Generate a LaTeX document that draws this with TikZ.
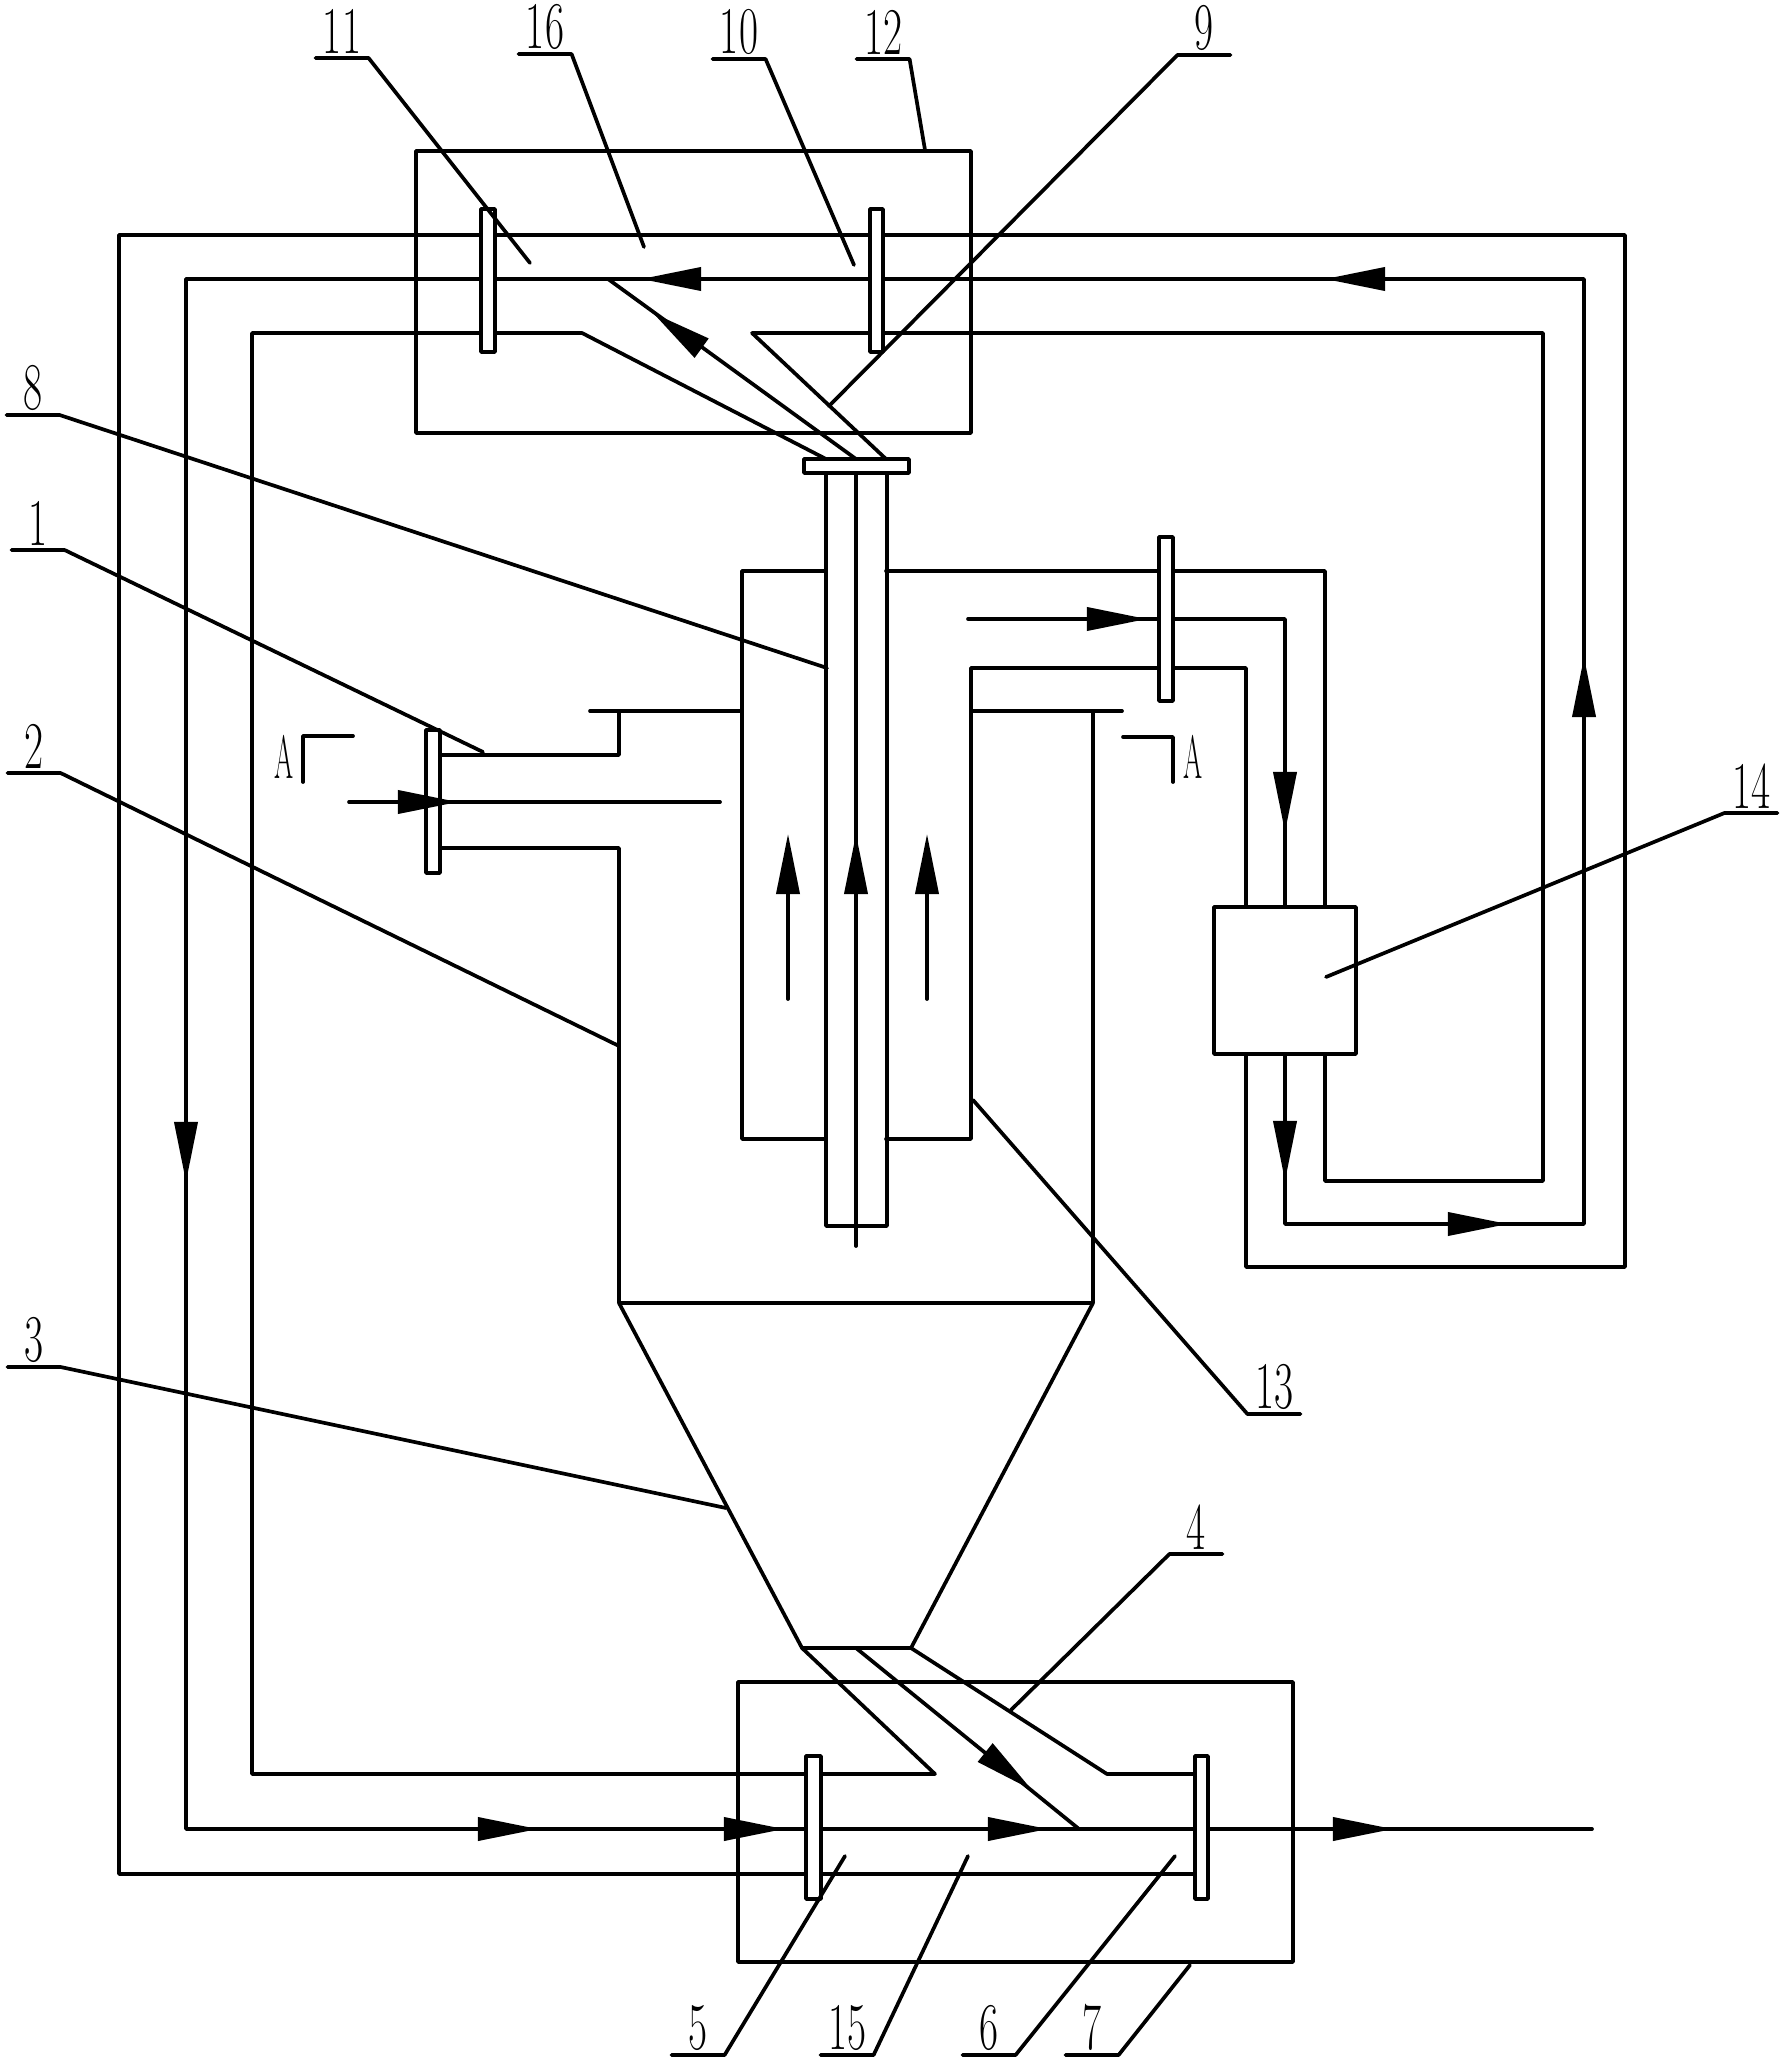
\documentclass[tikz,border=0pt]{standalone}
\usepackage{tikz}
\usetikzlibrary{arrows.meta,positioning,calc}

\tikzset{
  flowtip/.style={-{Triangle[length=.6cm,width=.23cm]}},
  flange/.style={draw,fill=white},
  numlab/.style={anchor=south,inner xsep=0pt,inner ysep=.03cm,minimum width=.82cm,
    font=\fontsize{19}{19}\selectfont,xscale=.62,transform shape},
  seclab/.style={inner sep=0pt,font=\fontsize{17.4}{18}\selectfont,xscale=.45,transform shape}
}

\begin{document}
\begin{tikzpicture}[x=.01cm,y=-.01cm,line width=1.05pt,line cap=round,line join=round]
\useasboundingbox (0,0) rectangle (1783,2064);

% The two chambers at top and bottom, and the box 14
\draw (416,151) rectangle (971,433);
\draw (738,1682) rectangle (1293,1962);
\draw (1214,907) rectangle (1356,1054);

% Outer channel of the loop
\draw (1194,1874) -- (119,1874) -- (119,235) -- (1625,235) -- (1625,1267)
      -- (1246,1267) -- (1246,1054);
\draw (1246,907) -- (1246,668) -- (971,668) -- (971,1139) -- (886,1139);

% Casing 13
\draw (826,1139) -- (742,1139) -- (742,571) -- (826,571);
\draw (886,571) -- (1325,571) -- (1325,907);
\draw (1325,1054) -- (1325,1181) -- (1543,1181) -- (1543,333) -- (752,333) -- (886,459);

% Inner channel, the one that joins the hopper with the flange 9
\draw (911,1648) -- (1107,1774) -- (1194,1774);
\draw (802,1648) -- (935,1774) -- (252,1774) -- (252,333) -- (582,333) -- (826,459);

% Flow lines (the branches meet them at the two ejectors)
\draw (968,619) -- (1285,619) -- (1285,907);
\draw (1285,1054) -- (1285,1224) -- (1584,1224) -- (1584,279) -- (186,279)
      -- (186,1829) -- (1592,1829);
\draw (608,279) -- (856,459);
\draw (856,1648) -- (1079,1829);

% The cyclone with its inlet
\draw (590,711) -- (742,711)
      (971,711) -- (1122,711)
      (619,711) -- (619,755) -- (440,755)
      (440,848) -- (619,848) -- (619,1303) -- (1093,1303) -- (1093,711);
\draw (619,1303) -- (802,1648) -- (911,1648) -- (1093,1303);
\draw (349,802) -- (720,802);

% The pipe through the casing
\draw (826,473) -- (826,1226) -- (887,1226) -- (887,473);
\draw (856,473) -- (856,1246);

% Section marks
\draw (353,736) -- (303,736) -- (303,782);
\draw (1123,737) -- (1173,737) -- (1173,782);
\node[seclab] (secL) at (284,757) {A};
\node[seclab] (secR) at (1193,757) {A};

% Flanges, drawn over the lines
\filldraw[flange] (481,209) rectangle (495,352);
\filldraw[flange] (870,209) rectangle (883,352);
\filldraw[flange] (804,459) rectangle (909,473);
\filldraw[flange] (1159,537) rectangle (1173,701);
\filldraw[flange] (426,730) rectangle (440,873);
\filldraw[flange] (806,1756) rectangle (821,1899);
\filldraw[flange] (1195,1756) rectangle (1208,1899);

% Arrows on the top lines
\draw[flowtip] (1383,279) -- (1325,279);
\draw[flowtip] (699,279) -- (641,279);
\draw[flowtip] (700,347) -- (653,313);
\draw[flowtip] (186,1124) -- (186,1182);

% Arrows on the bottom lines
\draw[flowtip] (477,1829) -- (538,1829);
\draw[flowtip] (726,1829) -- (784,1829);
\draw[flowtip] (991,1829) -- (1048,1829);
\draw[flowtip] (1333,1829) -- (1393,1829);
\draw[flowtip] (987,1754) -- (1032,1790);

% Arrows around the box 14
\draw[flowtip] (1092,619) -- (1147,619);
\draw[flowtip] (1285,777) -- (1285,832);
\draw[flowtip] (1285,1120) -- (1285,1181);
\draw[flowtip] (1447,1224) -- (1508,1224);
\draw[flowtip] (1584,718) -- (1584,657);

% Arrows in the inlet and in the pipe
\draw[flowtip] (402,802) -- (458,802);
\draw[flowtip] (788,999) -- (788,834);
\draw[flowtip] (927,999) -- (927,834);
\draw[flowtip] (856,896) -- (856,834);

% Numbers: the lower edge of each node is the shelf of its leader
\node[numlab] (n11) at (342,58)   {11};
\node[numlab] (n16) at (545,54)   {16};
\node[numlab] (n10) at (739,59)   {10};
\node[numlab] (n12) at (883,59)   {12};
\node[numlab] (n9)  at (1204,55)  {9};
\node[numlab] (n8)  at (33,415)   {8};
\node[numlab] (n1)  at (38,550)   {1};
\node[numlab] (n2)  at (34,773)   {2};
\node[numlab] (n3)  at (34,1367)  {3};
\node[numlab] (n13) at (1274,1414) {13};
\node[numlab] (n14) at (1751,813) {14};
\node[numlab] (n4)  at (1196,1554) {4};
\node[numlab] (n5)  at (698,2055) {5};
\node[numlab] (n15) at (847,2055) {15};
\node[numlab] (n6)  at (989,2055) {6};
\node[numlab] (n7)  at (1092,2055) {7};

% Ends of the leaders
\coordinate (l11) at (530,263);
\coordinate (l16) at (644,247);
\coordinate (l10) at (854,265);
\coordinate (l12) at (925,150);
\coordinate (l9)  at (829,406);
\coordinate (l8)  at (827,668);
\coordinate (l1)  at (483,752);
\coordinate (l2)  at (619,1046);
\coordinate (l3)  at (726,1508);
\coordinate (l13) at (973,1100);
\coordinate (l14) at (1326,977);
\coordinate (l4)  at (1011,1710);
\coordinate (l5)  at (845,1856);
\coordinate (l15) at (968,1856);
\coordinate (l6)  at (1175,1856);
\coordinate (l7)  at (1190,1965);

% Leaders, from the right end of the shelf
\draw (n11.south west) -- (n11.south east) -- (l11);
\draw (n16.south west) -- (n16.south east) -- (l16);
\draw (n10.south west) -- (n10.south east) -- (l10);
\draw (n12.south west) -- (n12.south east) -- (l12);
\draw (n8.south west)  -- (n8.south east)  -- (l8);
\draw (n1.south west)  -- (n1.south east)  -- (l1);
\draw (n2.south west)  -- (n2.south east)  -- (l2);
\draw (n3.south west)  -- (n3.south east)  -- (l3);
\draw (n5.south west)  -- (n5.south east)  -- (l5);
\draw (n15.south west) -- (n15.south east) -- (l15);
\draw (n6.south west)  -- (n6.south east)  -- (l6);
\draw (n7.south west)  -- (n7.south east)  -- (l7);

% Leaders, from the left end of the shelf
\draw (n9.south east)  -- (n9.south west)  -- (l9);
\draw (n13.south east) -- (n13.south west) -- (l13);
\draw (n14.south east) -- (n14.south west) -- (l14);
\draw (n4.south east)  -- (n4.south west)  -- (l4);
\end{tikzpicture}
\end{document}
